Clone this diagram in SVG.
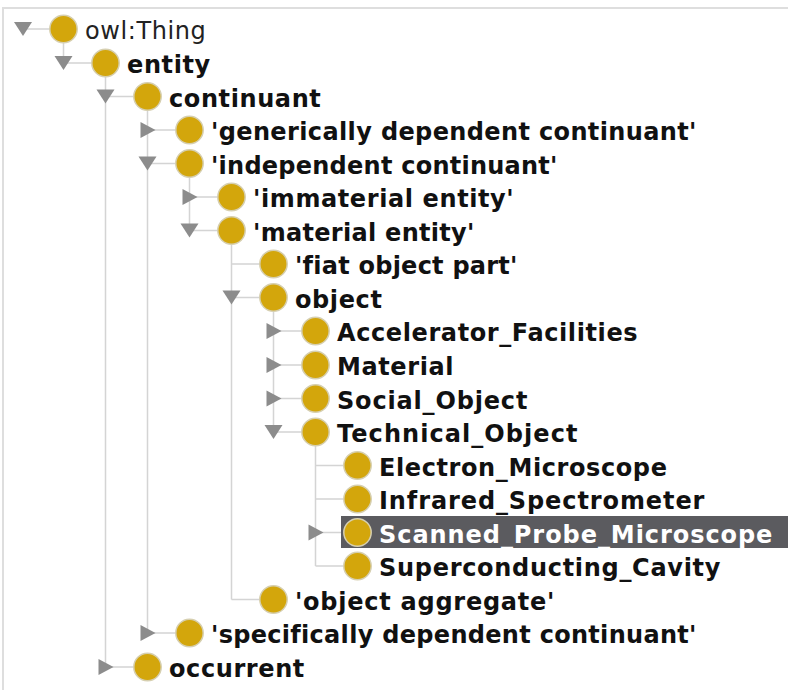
<svg xmlns="http://www.w3.org/2000/svg" width="788" height="690" viewBox="0 0 788 690">
<style>
.frame{fill:none;stroke:#dedede;stroke-width:2}
.ln{stroke:#d4d4d4;stroke-width:1.5;fill:none}
.cls{fill:#d3a60c;stroke:#d6cfb0;stroke-width:1.5}
.tg{fill:#8c8c8c}
.t{font-family:"DejaVu Sans",Verdana,sans-serif;font-size:24px;font-weight:bold;fill:#111;letter-spacing:0.6px}
.tn{font-weight:normal;fill:#222}
.sel{fill:#5b5b5f}
.tw{fill:#fff}
</style>
<defs>
<polygon id="down" class="tg" points="-9,-7 9,-7 0,7"/>
<polygon id="right" class="tg" points="-7,-8 -7,8 8,0"/>
</defs>
<rect width="788" height="690" fill="#fff"/>
<path class="frame" d="M3,690 V8 H788"/>
<g id="connectors">
<path class="ln" d="M23,29 H50"/>
<path class="ln" d="M63.5,43 V63 H92"/>
<path class="ln" d="M105.5,77 V667 M105.5,96.5 H134 M105.5,667 H134"/>
<path class="ln" d="M147.5,110.5 V633 M147.5,130 H176 M147.5,163.5 H176 M147.5,633 H176"/>
<path class="ln" d="M189.5,177.5 V230.5 M189.5,197 H218 M189.5,230.5 H218"/>
<path class="ln" d="M231.5,244.5 V599.5 M231.5,264 H260 M231.5,297.5 H260 M231.5,599.5 H260"/>
<path class="ln" d="M273.5,311.5 V432 M273.5,331 H302 M273.5,365 H302 M273.5,398.5 H302 M273.5,432 H302"/>
<path class="ln" d="M315.5,446 V566 M315.5,465.5 H344 M315.5,499 H344 M315.5,532.5 H344 M315.5,566 H344"/>
</g>
<rect class="sel" x="341" y="516" width="447" height="32"/>
<g id="owl-thing" transform="translate(63.5,29)"><use href="#down" x="-40.5"/><circle class="cls" r="13.7"/><text class="t tn" x="21.5" y="10">owl:Thing</text></g>
<g id="entity" transform="translate(105.5,63)"><use href="#down" x="-42"/><circle class="cls" r="13.7"/><text class="t" x="21.5" y="10">entity</text></g>
<g id="continuant" transform="translate(147.5,96.5)"><use href="#down" x="-42"/><circle class="cls" r="13.7"/><text class="t" x="21.5" y="10">continuant</text></g>
<g id="generically-dependent-continuant" transform="translate(189.5,130)"><use href="#right" x="-42"/><circle class="cls" r="13.7"/><text class="t" x="21.5" y="10" textLength="486" lengthAdjust="spacing">'generically dependent continuant'</text></g>
<g id="independent-continuant" transform="translate(189.5,163.5)"><use href="#down" x="-42"/><circle class="cls" r="13.7"/><text class="t" x="21.5" y="10" textLength="347" lengthAdjust="spacing">'independent continuant'</text></g>
<g id="immaterial-entity" transform="translate(231.5,197)"><use href="#right" x="-42"/><circle class="cls" r="13.7"/><text class="t" x="21.5" y="10">'immaterial entity'</text></g>
<g id="material-entity" transform="translate(231.5,230.5)"><use href="#down" x="-42"/><circle class="cls" r="13.7"/><text class="t" x="21.5" y="10" textLength="222" lengthAdjust="spacing">'material entity'</text></g>
<g id="fiat-object-part" transform="translate(273.5,264)"><circle class="cls" r="13.7"/><text class="t" x="21.5" y="10" textLength="223" lengthAdjust="spacing">'fiat object part'</text></g>
<g id="object" transform="translate(273.5,297.5)"><use href="#down" x="-42"/><circle class="cls" r="13.7"/><text class="t" x="21.5" y="10">object</text></g>
<g id="accelerator-facilities" transform="translate(315.5,331)"><use href="#right" x="-42"/><circle class="cls" r="13.7"/><text class="t" x="21.5" y="10">Accelerator_Facilities</text></g>
<g id="material" transform="translate(315.5,365)"><use href="#right" x="-42"/><circle class="cls" r="13.7"/><text class="t" x="21.5" y="10">Material</text></g>
<g id="social-object" transform="translate(315.5,398.5)"><use href="#right" x="-42"/><circle class="cls" r="13.7"/><text class="t" x="21.5" y="10" textLength="191" lengthAdjust="spacing">Social_Object</text></g>
<g id="technical-object" transform="translate(315.5,432)"><use href="#down" x="-42"/><circle class="cls" r="13.7"/><text class="t" x="21.5" y="10" textLength="241" lengthAdjust="spacing">Technical_Object</text></g>
<g id="electron-microscope" transform="translate(357.5,465.5)"><circle class="cls" r="13.7"/><text class="t" x="21.5" y="10">Electron_Microscope</text></g>
<g id="infrared-spectrometer" transform="translate(357.5,499)"><circle class="cls" r="13.7"/><text class="t" x="21.5" y="10" textLength="326" lengthAdjust="spacing">Infrared_Spectrometer</text></g>
<g id="scanned-probe-microscope" transform="translate(357.5,532.5)"><use href="#right" x="-42"/><circle class="cls" r="13.7"/><text class="t tw" x="21.5" y="10" textLength="394" lengthAdjust="spacing">Scanned_Probe_Microscope</text></g>
<g id="superconducting-cavity" transform="translate(357.5,566)"><circle class="cls" r="13.7"/><text class="t" x="21.5" y="10" textLength="342" lengthAdjust="spacing">Superconducting_Cavity</text></g>
<g id="object-aggregate" transform="translate(273.5,599.5)"><circle class="cls" r="13.7"/><text class="t" x="21.5" y="10" textLength="260" lengthAdjust="spacing">'object aggregate'</text></g>
<g id="specifically-dependent-continuant" transform="translate(189.5,633)"><use href="#right" x="-42"/><circle class="cls" r="13.7"/><text class="t" x="21.5" y="10" textLength="486" lengthAdjust="spacing">'specifically dependent continuant'</text></g>
<g id="occurrent" transform="translate(147.5,667)"><use href="#right" x="-42"/><circle class="cls" r="13.7"/><text class="t" x="21.5" y="10">occurrent</text></g>
</svg>
